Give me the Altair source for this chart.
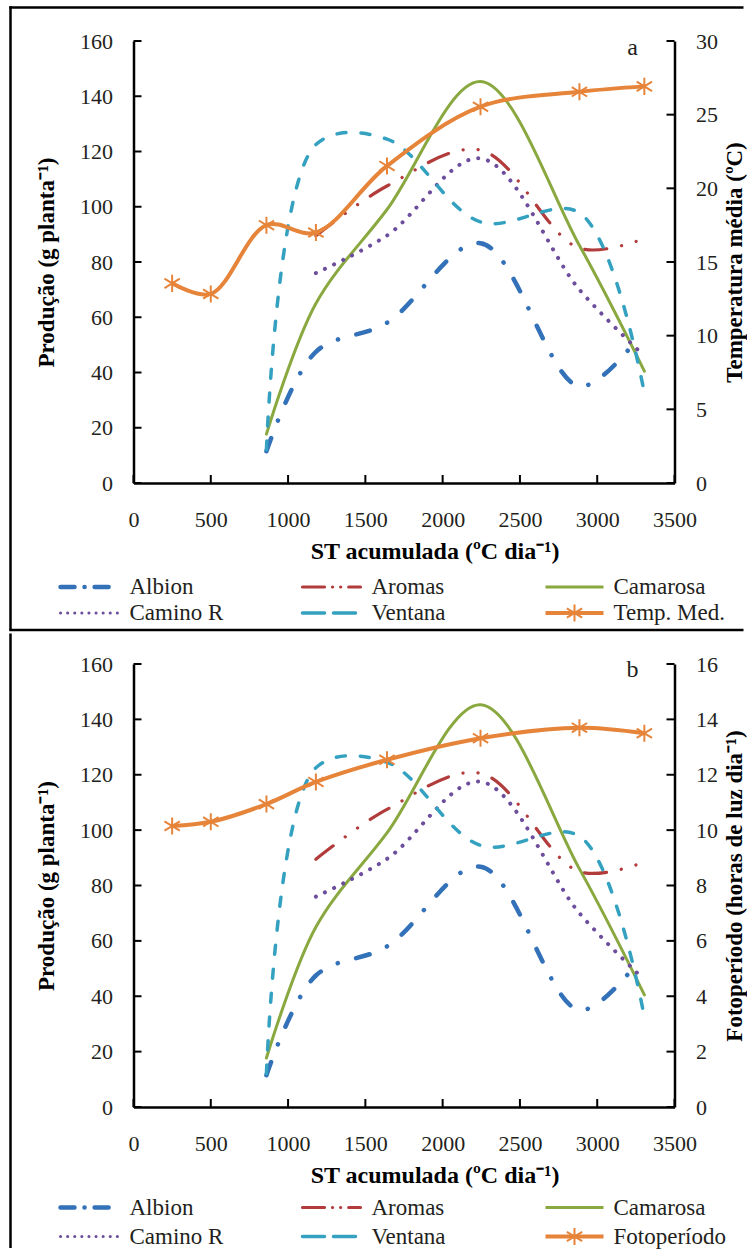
import altair as alt
import pandas as pd

# ---------------- data ----------------
albion_st = [860, 1180, 1640, 2245, 2885, 3265]
albion = [11.5, 47.5, 58.0, 86.8, 35.0, 52.6]
aromas_st = [1180, 1640, 2245, 2885, 3305]
aromas = [89.5, 107.5, 120.5, 85.0, 88.5]
camarosa_st = [860, 1180, 1640, 2245, 2885, 3305]
camarosa = [17.7, 65.0, 99.0, 145.3, 86.0, 40.5]
caminor_st = [1180, 1640, 2245, 2885, 3265]
caminor = [76.0, 89.6, 117.5, 70.0, 48.1]
ventana_st = [860, 1180, 1640, 2245, 2885, 3305]
ventana = [12.0, 122.5, 124.5, 94.5, 97.8, 32.5]

clima_st = [250, 500, 860, 1180, 1640, 2245, 2885, 3305]
temp_med = [13.55, 12.83, 17.5, 17.0, 21.52, 25.54, 26.55, 26.92]
fotoperiodo = [10.15, 10.3, 10.94, 11.74, 12.54, 13.32, 13.7, 13.5]

x_ticks = [0, 500, 1000, 1500, 2000, 2500, 3000, 3500]
prod_ticks = [0, 20, 40, 60, 80, 100, 120, 140, 160]
temp_ticks = [0, 5, 10, 15, 20, 25, 30]
foto_ticks = [0, 2, 4, 6, 8, 10, 12, 14, 16]

cultivar_names = ["Albion", "Aromas", "Camarosa", "Camino R", "Ventana"]
cultivar_x = [albion_st, aromas_st, camarosa_st, caminor_st, ventana_st]
cultivar_y = [albion, aromas, camarosa, caminor, ventana]

# ---------------- styles ----------------
FONT = "Liberation Serif"
TXT = "#231F20"
ORANGE = "#E6843A"
STAR = "M0,-1L0,1M-0.9,-0.55L0.9,0.55M-0.9,0.55L0.9,-0.55"
W = 541

styles = {
    "Albion": dict(color="#3371B8", width=4.5, dash=[14, 19, 0.1, 19], ldash=[14, 10, 0.1, 10]),
    "Aromas": dict(color="#B23B3B", width=3.2, dash=[22, 15, 0.1, 15, 0.1, 15], ldash=[22, 8, 0.1, 8, 0.1, 8]),
    "Camarosa": dict(color="#89A83F", width=3, dash=None, ldash=None),
    "Camino R": dict(color="#6D4E9C", width=4, dash=[0.1, 10], ldash=[0.1, 7]),
    "Ventana": dict(color="#33A1BF", width=3.5, dash=[9, 15], ldash=[22, 9]),
}

one = pd.DataFrame({"d": [0]})


def x_enc():
    return alt.X(
        "st:Q",
        scale=alt.Scale(domain=[0, 3500], nice=False),
        title="ST acumulada (ºC dia⁻¹)",
        axis=alt.Axis(
            values=x_ticks, format="d", ticks=False, tickSize=0, grid=False,
            labelPadding=26, titlePadding=9, labelFlush=False, titleX=301,
            domainColor="black", domainWidth=2.5,
            labelFont=FONT, labelFontSize=22, labelColor=TXT,
            titleFont=FONT, titleFontSize=24, titleFontWeight="bold", titleColor="black",
        ),
    )


def y_left():
    return alt.Y(
        "prod:Q",
        scale=alt.Scale(domain=[0, 160], nice=False),
        title="Produção (g planta⁻¹)",
        axis=alt.Axis(
            orient="left", values=prod_ticks, ticks=False, tickSize=0, grid=False,
            labelPadding=21, titlePadding=21, labelFlush=False,
            domainColor="black", domainWidth=2.5,
            labelFont=FONT, labelFontSize=22, labelColor=TXT,
            titleFont=FONT, titleFontSize=23, titleFontWeight="bold", titleColor="black",
        ),
    )


def y_right(domain, ticks, title):
    return alt.Y(
        "clima:Q",
        scale=alt.Scale(domain=domain, nice=False),
        title=title,
        axis=alt.Axis(
            orient="right", values=ticks, ticks=False, tickSize=0, grid=False,
            labelPadding=21, titlePadding=6, labelFlush=False,
            titleAngle=270, titleBaseline="top",
            domainColor="black", domainWidth=2.5,
            labelFont=FONT, labelFontSize=22, labelColor=TXT,
            titleFont=FONT, titleFontSize=23, titleFontWeight="bold", titleColor="black",
        ),
    )


def vrule(**enc):
    return alt.Chart(one).mark_rule(color="black", strokeWidth=2.5).encode(
        **{k: alt.value(v) for k, v in enc.items()}
    )


def make_panel(H, clima_vals, clima_domain, clima_ticks, clima_title, clima_label,
               letter, letter_y, rows, frame):
    left_layers = []
    for name, xs, ys in zip(cultivar_names, cultivar_x, cultivar_y):
        s = styles[name]
        kw = dict(color=s["color"], strokeWidth=s["width"], interpolate="catmull-rom",
                  strokeCap="round")
        if s["dash"]:
            kw["strokeDash"] = s["dash"]
        df = pd.DataFrame({"st": xs, "prod": ys})
        left_layers.append(alt.Chart(df).mark_line(**kw).encode(x=x_enc(), y=y_left()))

    # inward tick marks
    left_layers.append(
        alt.Chart(pd.DataFrame({"prod": prod_ticks})).mark_rule(color="black", strokeWidth=2)
        .encode(y=y_left(), x=alt.value(0), x2=alt.value(8))
    )
    left_layers.append(
        alt.Chart(pd.DataFrame({"st": x_ticks})).mark_rule(color="black", strokeWidth=2)
        .encode(x=x_enc(), y=alt.value(H - 8), y2=alt.value(H))
    )

    # panel letter
    left_layers.append(
        alt.Chart(one).mark_text(font=FONT, fontSize=24, color=TXT, align="center",
                                 baseline="middle")
        .encode(x=alt.value(499), y=alt.value(letter_y), text=alt.value(letter))
    )

    # legend
    names = cultivar_names[:3] + cultivar_names[3:] + [clima_label]
    col_sample = [-73, 169, 412]
    col_label = [-4, 238, 480]
    for i, name in enumerate(names):
        r, c = divmod(i, 3)
        y = rows[r]
        x0 = col_sample[c]
        x1 = x0 + 58
        if name in styles:
            s = styles[name]
            kw = dict(color=s["color"], strokeWidth=s["width"] if name != "Camino R" else 3,
                      strokeCap="round" if s["ldash"] else "butt")
            if s["ldash"]:
                kw["strokeDash"] = s["ldash"]
            left_layers.append(
                alt.Chart(one).mark_rule(**kw)
                .encode(x=alt.value(x0), x2=alt.value(x1), y=alt.value(y))
            )
        else:
            left_layers.append(
                alt.Chart(one).mark_rule(color=ORANGE, strokeWidth=4)
                .encode(x=alt.value(x0), x2=alt.value(x1), y=alt.value(y))
            )
            left_layers.append(
                alt.Chart(one).mark_point(shape=STAR, size=290, filled=False, stroke=ORANGE,
                                          strokeWidth=2, opacity=1)
                .encode(x=alt.value((x0 + x1) / 2), y=alt.value(y))
            )
        left_layers.append(
            alt.Chart(one).mark_text(font=FONT, fontSize=23, color=TXT, align="left",
                                     baseline="middle")
            .encode(x=alt.value(col_label[c]), y=alt.value(y), text=alt.value(name))
        )

    # frame
    for f in frame:
        left_layers.append(vrule(**f))

    left = alt.layer(*left_layers)

    cdf = pd.DataFrame({"st": clima_st, "clima": clima_vals})
    yr = y_right(clima_domain, clima_ticks, clima_title)
    right = alt.layer(
        alt.Chart(cdf).mark_line(color=ORANGE, strokeWidth=4, interpolate="catmull-rom")
        .encode(x=x_enc(), y=yr),
        alt.Chart(cdf).mark_point(shape=STAR, size=290, filled=False, stroke=ORANGE,
                                  strokeWidth=2, opacity=1)
        .encode(x=x_enc(), y=yr),
        alt.Chart(pd.DataFrame({"clima": clima_ticks})).mark_rule(color="black", strokeWidth=2)
        .encode(y=yr, x=alt.value(W - 8), x2=alt.value(W)),
    )
    return alt.layer(left, right).resolve_scale(y="independent").properties(width=W, height=H)


frame_a = [
    dict(x=-124.25, x2=610, y=-33.5),
    dict(x=-123, y=-34.75, y2=589),
    dict(x=-124.25, x2=610, y=589),
]
frame_b = [
    dict(x=-123, y=-30.5, y2=584),
]

panel_a = make_panel(442, temp_med, [0, 30], temp_ticks, "Temperatura média (ºC)",
                     "Temp. Med.", "a", 7, [546, 572], frame_a)
panel_b = make_panel(443, fotoperiodo, [0, 16], foto_ticks,
                     "Fotoperíodo (horas de luz dia⁻¹)", "Fotoperíodo", "b", 6,
                     [543.5, 572.5], frame_b)

chart = (
    alt.vconcat(panel_a, panel_b, spacing=0)
    .properties(padding={"left": 7.5, "top": 5, "right": 0, "bottom": 0},
                background="white")
    .configure_view(stroke=None)
)

chart.save("out.html", embed_options={"renderer": "svg", "actions": False})
